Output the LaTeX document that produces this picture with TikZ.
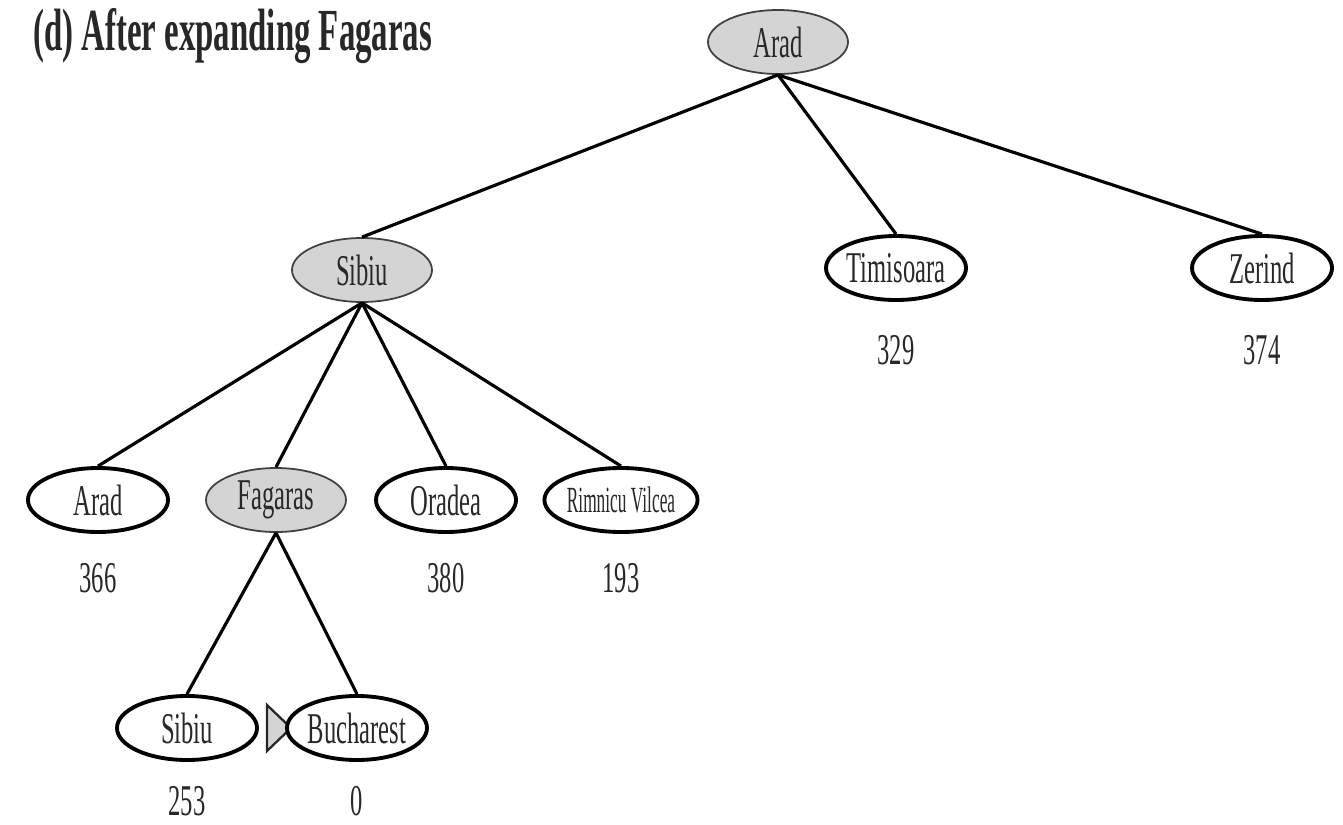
\documentclass[tikz,border=0pt]{standalone}
\usepackage{fontspec}
\usetikzlibrary{shapes.geometric}
\setmainfont{Liberation Serif}
\newfontfamily\condfont[FakeStretch=0.56]{Liberation Serif}
\newfontfamily\narrowfont[FakeStretch=0.47]{Liberation Serif}
\newfontfamily\titlefont[FakeStretch=0.55]{Liberation Serif Bold}
\definecolor{expanded}{RGB}{212,212,212}
\definecolor{ink}{RGB}{40,40,40}
\tikzset{
  city/.style={ellipse, draw=black, line width=2.2pt, fill=white,
    minimum width=140*0.02cm, minimum height=64*0.02cm, inner sep=0pt,
    text=ink, font=\condfont\fontsize{25}{28}\selectfont},
  done/.style={city, fill=expanded, draw=black!75, line width=1pt},
  small/.style={font=\narrowfont\fontsize{21}{24}\selectfont},
  hval/.style={text=ink, inner sep=0pt, font=\condfont\fontsize{25}{28}\selectfont},
  link/.style={draw=black, line width=1.8pt},
}
\begin{document}
\begin{tikzpicture}[x=0.02cm, y=-0.02cm]
\useasboundingbox (0,0) rectangle (1343,825);

% heading
\node[anchor=west, inner sep=0pt, text=ink, font=\titlefont\fontsize{34}{40}\selectfont]
  (title) at (33,36) {(d) After expanding Fagaras};

% marker between the two newest leaves (drawn under the ellipse)
\draw[fill=expanded, draw=black!85, line width=1.3pt, line join=miter]
  (267,705) coordinate (mA) -- (291,728) coordinate (mB) -- (267,751) coordinate (mC) -- cycle;

% tree nodes
\node[done] (arad)  at (778,42)  {Arad};
\node[done] (sibiu) at (362,270) {Sibiu};
\node[city] (timi)  at (896,268) {Timisoara};
\node[city] (zer)   at (1262,268) {Zerind};
\node[city] (arad2) at (98,500)  {Arad};
\node[done] (fag)   at (276,500) {Fagaras};
\node[city] (ora)   at (446,500) {Oradea};
\node[city, small] (rim) at (621,500) {Rimnicu Vilcea};
\node[city] (sib3)  at (187,728) {Sibiu};
\node[city] (buc)   at (357,728) {Bucharest};

% heuristic values
\node[hval] (vtimi)  at (896,350) {329};
\node[hval] (vzer)   at (1262,350) {374};
\node[hval] (varad2) at (98,578)  {366};
\node[hval] (vora)   at (446,578) {380};
\node[hval] (vrim)   at (621,578) {193};
\node[hval] (vsib3)  at (187,801) {253};
\node[hval] (vbuc)   at (357,801) {0};

% branches
\path[link] (arad.south) -- (sibiu.north);
\path[link] (arad.south) -- (timi.north);
\path[link] (arad.south) -- (zer.north);
\path[link] (sibiu.south) -- (arad2.north);
\path[link] (sibiu.south) -- (fag.north);
\path[link] (sibiu.south) -- (ora.north);
\path[link] (sibiu.south) -- (rim.north);
\path[link] (fag.south) -- (sib3.north);
\path[link] (fag.south) -- (buc.north);
\end{tikzpicture}
\end{document}
